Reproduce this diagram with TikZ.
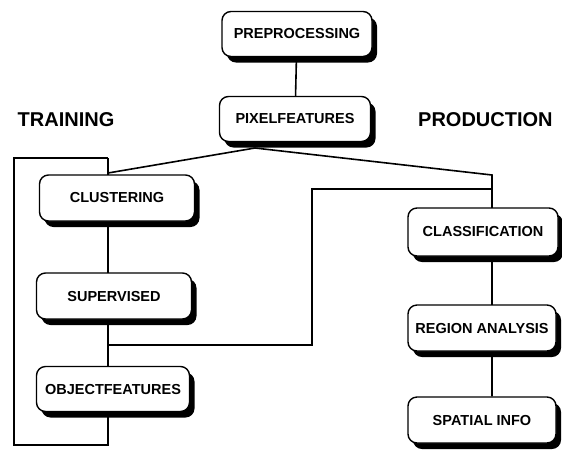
\documentclass[tikz,border=0pt]{standalone}
\usepackage{fontspec}
\setmainfont{Liberation Sans}
\usetikzlibrary{shadows,backgrounds}
\tikzset{stage/.style={draw,line width=1.4pt,fill=white,rounded corners=9pt,minimum width=150pt,minimum height=46pt,inner sep=1pt,
  font=\fontsize{14.5}{16}\selectfont\bfseries,drop shadow={shadow xshift=5pt,shadow yshift=-6pt,fill=black,opacity=1}},
  wire/.style={line width=1.6pt},
  head/.style={font=\fontsize{20}{24}\selectfont\bfseries,inner sep=0}}
\begin{document}
\begin{tikzpicture}[x=1pt,y=-1pt]
\useasboundingbox(0,0)rectangle(562,451);
\node[stage,minimum height=45pt](pre)at(297,34){PREPROCESSING};
\node[stage,minimum width=151pt,minimum height=45pt](pix)at(295,119){PIXELFEATURES};
\node[head](train)at(66,120){TRAINING};
\node[head,anchor=west](prod)at(418,120){PRODUCTION};
% training side
\node[stage,minimum width=155pt](clu)at(117,198){CLUSTERING};
\node[stage,minimum width=155pt](sup)at(114,296){SUPERVISED};
\node[stage,minimum width=153pt,minimum height=45pt](obj)at(113,389){OBJECTFEATURES};
% production side
\node[stage,minimum height=48pt](cla)at(483,232){CLASSIFICATION};
\node[stage,minimum width=148pt](reg)at(482,328){REGION ANALYSIS};
\node[stage,minimum width=148pt](spa)at(482,420){SPATIAL INFO};
\coordinate(tl)at(14,158);\coordinate(tr)at(108,158);
\coordinate(bl)at(14,445);\coordinate(br)at(108,445);
\coordinate(pv)at(255,148);
\coordinate(tj)at(108,173);\coordinate(pj)at(492,175);
\coordinate(sj)at(108,345);\coordinate(fa)at(312,345);
\coordinate(fb)at(312,189);\coordinate(fc)at(492,189);
\begin{scope}[on background layer]
\draw[wire](pre)--(pix);
\draw[wire](tr)--(tl)--(bl)--(br)--(tr);
\draw[wire](tj)--(pv)--(pj)--(spa.north-|pj);
\draw[wire](sj)--(fa)--(fb)--(fc);
\end{scope}
\end{tikzpicture}
\end{document}
